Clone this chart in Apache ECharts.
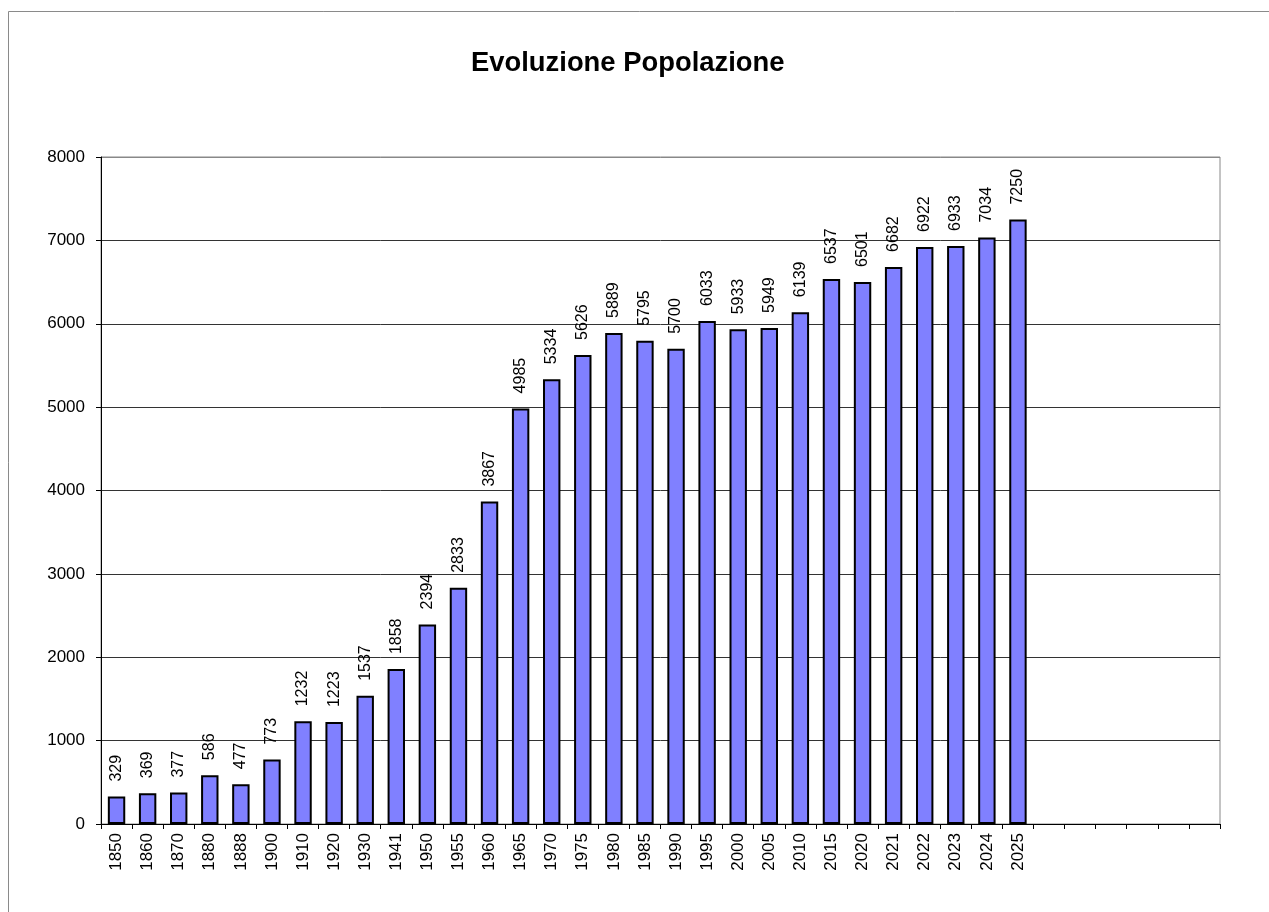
<!DOCTYPE html>
<html><head><meta charset="utf-8">
<script src="https://cdn.jsdelivr.net/npm/echarts@6/dist/echarts.min.js"></script>
<style>html,body{margin:0;padding:0;background:#fff}#c{width:1269px;height:912px}</style>
</head><body><div id="c"></div>
<script>
var years = ['1850','1860','1870','1880','1888','1900','1910','1920','1930','1941','1950','1955','1960','1965','1970','1975','1980','1985','1990','1995','2000','2005','2010','2015','2020','2021','2022','2023','2024','2025'];
var population = [329,369,377,586,477,773,1232,1223,1537,1858,2394,2833,3867,4985,5334,5626,5889,5795,5700,6033,5933,5949,6139,6537,6501,6682,6922,6933,7034,7250];
var emptySlots = ['','','','','',''];
var categories = years.concat(emptySlots);
var FONT = '"Liberation Sans", Arial, sans-serif';
var chart = echarts.init(document.getElementById('c'));
chart.setOption({
  animation: false,
  backgroundColor: '#fff',
  title: {
    text: 'Evoluzione Popolazione', left: 466, top: 45,
    textStyle: { fontFamily: FONT, fontSize: 27.4, fontWeight: 'bold', color: '#000' }
  },
  graphic: [{
    type: 'rect', shape: { x: 8.5, y: 11.5, width: 1400, height: 1000 },
    style: { fill: 'none', stroke: '#8a8a8a', lineWidth: 1 }, silent: true
  }],
  grid: { left: 101, right: 49, top: 157, bottom: 88, show: true, borderColor: '#888', borderWidth: 1, backgroundColor: 'transparent' },
  xAxis: {
    type: 'category', data: categories,
    axisLine: { lineStyle: { color: '#000', width: 1 } },
    axisTick: { show: true, length: 5, interval: 0, lineStyle: { color: '#000' } },
    axisLabel: { interval: 0, rotate: 90, margin: 9, color: '#000', fontFamily: FONT, fontSize: 17 }
  },
  yAxis: {
    type: 'value', min: 0, max: 8000, interval: 1000,
    axisLine: { show: true, lineStyle: { color: '#000', width: 1 } },
    axisTick: { show: true, length: 5, lineStyle: { color: '#000' } },
    axisLabel: { margin: 16, color: '#000', fontFamily: FONT, fontSize: 17, formatter: function (v) { return String(v); } },
    splitLine: { show: true, lineStyle: { color: ['#333','#333','#333','#333','#333','#333','#333','#333','#888'], width: 1 } }
  },
  series: [{
    type: 'bar', data: population, barWidth: '56%',
    itemStyle: { color: '#8080FF', borderColor: '#000', borderWidth: 2 },
    label: {
      show: true, position: 'top', rotate: 90, align: 'left', verticalAlign: 'middle', distance: 15,
      color: '#000', fontFamily: FONT, fontSize: 16
    }
  }]
});
</script></body></html>
